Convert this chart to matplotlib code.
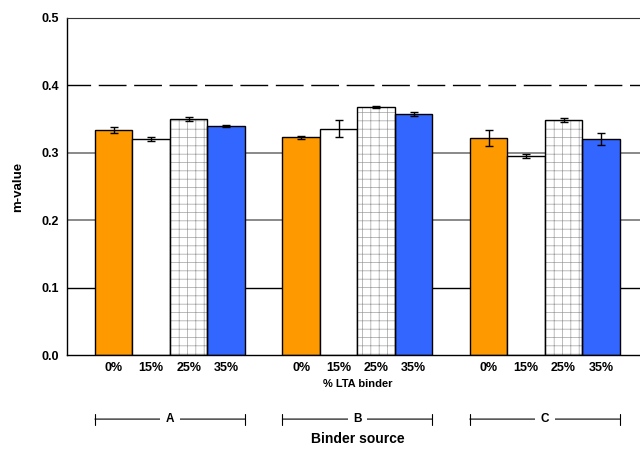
import numpy as np
import matplotlib
matplotlib.use("Agg")
import matplotlib.pyplot as plt
import matplotlib.transforms as mtransforms

plt.rcParams['font.family'] = ['Liberation Sans', 'DejaVu Sans']
plt.rcParams['hatch.linewidth'] = 0.5

# data
sources = ['A', 'B', 'C']
lta = ['0%', '15%', '25%', '35%']
mval = {
    '0%':  [0.334, 0.323, 0.322],
    '15%': [0.320, 0.336, 0.295],
    '25%': [0.350, 0.368, 0.348],
    '35%': [0.340, 0.357, 0.320],
}
err = {
    '0%':  [0.005, 0.002, 0.012],
    '15%': [0.003, 0.012, 0.003],
    '25%': [0.003, 0.001, 0.003],
    '35%': [0.002, 0.003, 0.009],
}

colors = ['#ff9900', 'white', 'white', '#3366ff']
hatches = [None, None, '++', None]

fig = plt.figure(figsize=(6.4, 4.5), dpi=100)
ax = fig.add_axes([0.105, 0.211, 0.895, 0.749])

# grid lines behind the bars
ax.axhline(0.1, color='black', lw=1, zorder=0)
ax.axhline(0.2, color='#808080', lw=1.3, zorder=0)
ax.axhline(0.3, color='#808080', lw=1.3, zorder=0)
ax.axhline(0.4, color='black', lw=1, ls=(3, (20, 5.5)), zorder=0)

gap = 5
for i, p in enumerate(lta):
    x = np.arange(len(sources)) * gap + i
    if hatches[i]:
        # grey hatch first, black outline on top
        ax.bar(x, mval[p], width=1.0, color='white', edgecolor='#a0a0a0',
               linewidth=0, hatch=hatches[i], zorder=2)
        ax.bar(x, mval[p], width=1.0, fill=False, edgecolor='black',
               linewidth=1, zorder=2.1)
    else:
        ax.bar(x, mval[p], width=1.0, color=colors[i], edgecolor='black',
               linewidth=1, zorder=2)
    ax.errorbar(x, mval[p], yerr=err[p], fmt='none', ecolor='black',
                elinewidth=1, capsize=3, capthick=1, zorder=3)

ax.set_xlim(-1.24, 14.04)
ax.set_ylim(0, 0.5)
ax.set_yticks([0.0, 0.1, 0.2, 0.3, 0.4, 0.5])
ax.set_yticklabels(['0.0', '0.1', '0.2', '0.3', '0.4', '0.5'],
                   fontsize=9, fontweight='bold')
ax.tick_params(axis='y', length=0, pad=6)

xt = [g * gap + i for g in range(len(sources)) for i in range(len(lta))]
ax.set_xticks(xt)
ax.set_xticklabels(lta * len(sources), fontsize=9, fontweight='bold')
ax.tick_params(axis='x', length=0, pad=5)

ax.spines['right'].set_visible(False)
ax.spines['top'].set_color('#333333')
ax.spines['left'].set_linewidth(1)
ax.spines['bottom'].set_linewidth(1)

ax.set_ylabel('m-value', fontsize=9.5, fontweight='bold', labelpad=12)

trans = mtransforms.blended_transform_factory(ax.transData, ax.transAxes)
ax.text(1.5 + gap, -0.085, '% LTA binder', transform=trans, ha='center',
        va='center', fontsize=8, fontweight='bold')

for g, s in enumerate(sources):
    x0 = g * gap - 0.5
    x1 = g * gap + 3.5
    ax.annotate('', xy=(x0, -0.19), xytext=(x1, -0.19), xycoords=trans,
                textcoords=trans,
                arrowprops=dict(arrowstyle='|-|,widthA=0.4,widthB=0.4',
                                color='black', lw=0.8, shrinkA=0, shrinkB=0))
    ax.text(g * gap + 1.5, -0.19, s, transform=trans, ha='center', va='center',
            fontsize=8.5, fontweight='bold',
            bbox=dict(facecolor='white', edgecolor='none', pad=4))

ax.text(1.5 + gap, -0.25, 'Binder source', transform=trans, ha='center',
        va='center', fontsize=10, fontweight='bold')

fig.savefig('out.png', dpi=100)
